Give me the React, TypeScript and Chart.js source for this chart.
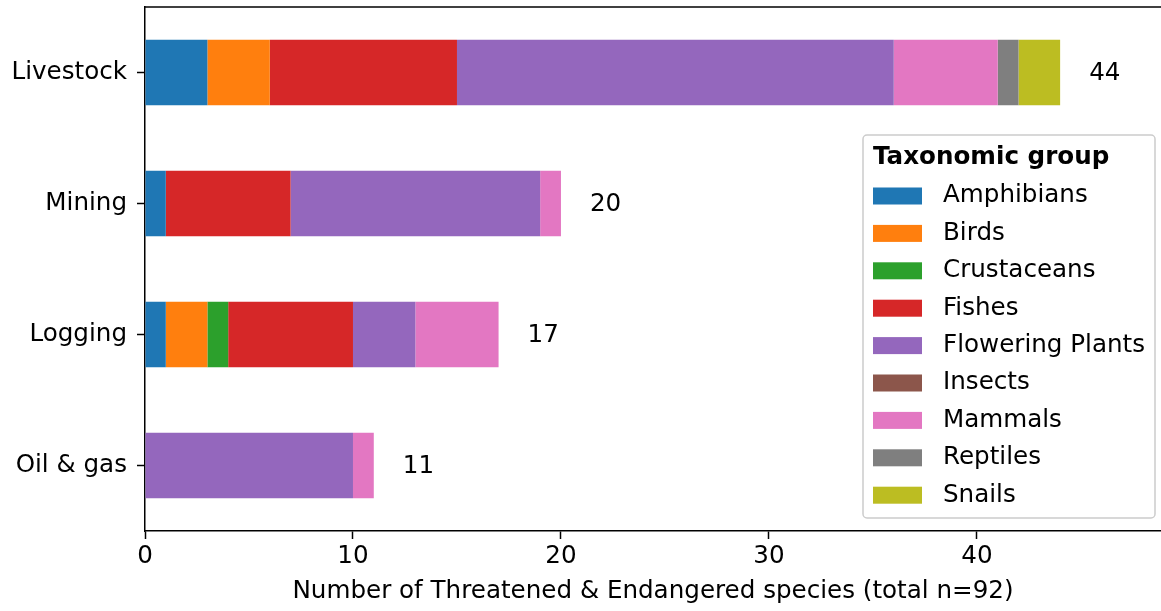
import React, { useEffect, useRef } from 'react';
import { Chart, registerables } from 'chart.js';

Chart.register(...registerables);

// ---- Data ----
const categories = ['Livestock', 'Mining', 'Logging', 'Oil & gas'];
const groupNames = [
  'Amphibians',
  'Birds',
  'Crustaceans',
  'Fishes',
  'Flowering Plants',
  'Insects',
  'Mammals',
  'Reptiles',
  'Snails',
];
const amphibians = [3, 1, 1, 0];
const birds = [3, 0, 2, 0];
const crustaceans = [0, 0, 1, 0];
const fishes = [9, 6, 6, 0];
const floweringPlants = [21, 12, 3, 10];
const insects = [0, 0, 0, 0];
const mammals = [5, 1, 4, 1];
const reptiles = [1, 0, 0, 0];
const snails = [2, 0, 0, 0];
const groupColors = [
  '#1f77b4',
  '#ff7f0e',
  '#2ca02c',
  '#d62728',
  '#9467bd',
  '#8c564b',
  '#e377c2',
  '#7f7f7f',
  '#bcbd22',
];
const xTickValues = [0, 10, 20, 30, 40];
const xMin = 0;
const xMax = 48.85;
const xTitle = 'Number of Threatened & Endangered species (total n=92)';
const legendTitle = 'Taxonomic group';

const seriesValues = [
  amphibians,
  birds,
  crustaceans,
  fishes,
  floweringPlants,
  insects,
  mammals,
  reptiles,
  snails,
];

const FONT = "'DejaVu Sans', sans-serif";
const FS = 24.6;

const topSpinePlugin = {
  id: 'topSpine',
  afterDraw(chart: any) {
    const { ctx, chartArea } = chart;
    ctx.save();
    ctx.strokeStyle = '#000';
    ctx.lineWidth = 1.5;
    ctx.beginPath();
    ctx.moveTo(chartArea.left, chartArea.top);
    ctx.lineTo(chartArea.right, chartArea.top);
    ctx.stroke();
    ctx.restore();
  },
};

const totalsPlugin = {
  id: 'totals',
  afterDatasetsDraw(chart: any) {
    const { ctx } = chart;
    const xs = chart.scales.x;
    const ys = chart.scales.y;
    ctx.save();
    ctx.font = `${FS}px ${FONT}`;
    ctx.fillStyle = '#000';
    ctx.textAlign = 'left';
    ctx.textBaseline = 'middle';
    chart.data.labels.forEach((_: any, i: number) => {
      let total = 0;
      chart.data.datasets.forEach((ds: any) => {
        total += ds.data[i] || 0;
      });
      const x = xs.getPixelForValue(total) + 29;
      const y = ys.getPixelForValue(i);
      ctx.fillText(String(total), x, y + 1);
    });
    ctx.restore();
  },
};

const legendPlugin = {
  id: 'customLegend',
  afterDraw(chart: any) {
    const { ctx } = chart;
    const bx = 863;
    const by = 135;
    const bw = 292;
    const bh = 383;
    const r = 4;
    ctx.save();
    ctx.beginPath();
    ctx.moveTo(bx + r, by);
    ctx.lineTo(bx + bw - r, by);
    ctx.arcTo(bx + bw, by, bx + bw, by + r, r);
    ctx.lineTo(bx + bw, by + bh - r);
    ctx.arcTo(bx + bw, by + bh, bx + bw - r, by + bh, r);
    ctx.lineTo(bx + r, by + bh);
    ctx.arcTo(bx, by + bh, bx, by + bh - r, r);
    ctx.lineTo(bx, by + r);
    ctx.arcTo(bx, by, bx + r, by, r);
    ctx.closePath();
    ctx.fillStyle = 'rgba(255,255,255,0.85)';
    ctx.fill();
    ctx.strokeStyle = '#cccccc';
    ctx.lineWidth = 1.5;
    ctx.stroke();

    ctx.fillStyle = '#000';
    ctx.textBaseline = 'middle';
    ctx.textAlign = 'left';
    ctx.font = `bold ${FS}px ${FONT}`;
    ctx.fillText(legendTitle, 873, 158);

    ctx.font = `${FS}px ${FONT}`;
    chart.data.datasets.forEach((ds: any, k: number) => {
      const cy = 196 + k * 37.4;
      ctx.fillStyle = ds.backgroundColor;
      ctx.fillRect(873, cy - 8.5, 49, 17);
      ctx.fillStyle = '#000';
      ctx.fillText(ds.label, 943, cy);
    });
    ctx.restore();
  },
};

export default function App() {
  const canvasRef = useRef<HTMLCanvasElement | null>(null);

  useEffect(() => {
    const canvas = canvasRef.current;
    if (!canvas) return;
    Chart.defaults.font.family = FONT;
    Chart.defaults.color = '#000';

    const chart = new Chart(canvas, {
      type: 'bar',
      data: {
        labels: categories,
        datasets: groupNames.map((name, k) => ({
          label: name,
          data: seriesValues[k],
          backgroundColor: groupColors[k],
          borderWidth: 0,
          barPercentage: 0.5,
          categoryPercentage: 1,
        })),
      },
      options: {
        indexAxis: 'y',
        responsive: false,
        animation: false,
        maintainAspectRatio: false,
        layout: { padding: { top: 7, right: 0, bottom: 0, left: 0 } },
        plugins: {
          legend: { display: false },
          tooltip: { enabled: false },
        },
        scales: {
          x: {
            type: 'linear',
            stacked: true,
            min: xMin,
            max: xMax,
            afterBuildTicks(scale: any) {
              scale.ticks = xTickValues.map((v) => ({ value: v }));
            },
            afterFit(scale: any) {
              scale.height = 80;
              scale.paddingLeft = 0;
              scale.paddingRight = 0;
            },
            ticks: {
              font: { size: FS },
              color: '#000',
              padding: 3,
              maxRotation: 0,
            },
            grid: {
              display: true,
              drawOnChartArea: false,
              drawTicks: true,
              tickLength: 8,
              tickColor: '#000',
              tickWidth: 1.5,
            },
            border: { display: true, color: '#000', width: 1.5 },
            title: {
              display: true,
              text: xTitle,
              font: { size: FS },
              color: '#000',
              padding: { top: 2, bottom: 5 },
            },
          },
          y: {
            type: 'category',
            stacked: true,
            afterFit(scale: any) {
              scale.width = 145;
              scale.paddingTop = 0;
              scale.paddingBottom = 0;
            },
            ticks: {
              font: { size: FS },
              color: '#000',
              padding: 10,
            },
            grid: {
              display: true,
              offset: false,
              drawOnChartArea: false,
              drawTicks: true,
              tickLength: 8,
              tickColor: '#000',
              tickWidth: 1.5,
            },
            border: { display: true, color: '#000', width: 1.5 },
          },
        },
      },
      plugins: [topSpinePlugin, totalsPlugin, legendPlugin],
    } as any);

    return () => {
      chart.destroy();
    };
  }, []);

  return (
    <div style={{ position: 'fixed', left: 0, top: 0, width: 1161, height: 611, background: '#fff' }}>
      <canvas ref={canvasRef} width={1161} height={611} style={{ display: 'block' }} />
    </div>
  );
}
